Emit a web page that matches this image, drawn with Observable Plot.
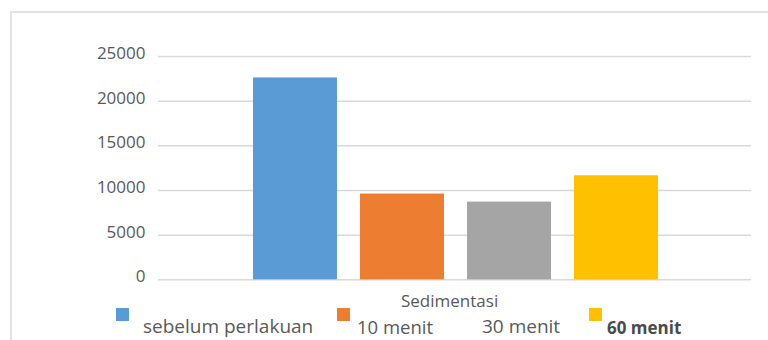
<!DOCTYPE html>
<html>
<head>
<meta charset="utf-8">
<script src="https://cdn.jsdelivr.net/npm/d3@7"></script>
<script src="https://cdn.jsdelivr.net/npm/@observablehq/plot@0.6"></script>
<style>
  html, body { margin: 0; padding: 0; background: #fff; }
  #wrap { position: relative; width: 768px; height: 340px; overflow: hidden; font-family: "Open Sans", sans-serif; color: #595959; }
  #frame { position: absolute; left: 10px; top: 11px; right: -4px; bottom: -4px; border-top: 2px solid #e2e2e2; border-left: 2px solid #e2e2e2; pointer-events: none; }
  .lg { position: absolute; font-size: 17px; line-height: 1; white-space: nowrap; }
  .sw { position: absolute; width: 13px; height: 13px; }
</style>
</head>
<body>
<div id="wrap"></div>
<script>
const categories = ["Sedimentasi"];
const series = ["sebelum perlakuan", "10 menit", "30 menit", "60 menit"];
const values = [22600, 9600, 8700, 11650];
const colors = ["#5B9BD5", "#ED7D31", "#A5A5A5", "#FFC000"];
const yTicks = [0, 5000, 10000, 15000, 20000, 25000];

const data = series.map((s, i) => ({category: categories[0], series: s, value: values[i]}));

const wrap = document.getElementById("wrap");

const chart = Plot.plot({
  width: 768,
  height: 290,
  marginLeft: 158,
  marginRight: 17,
  marginTop: 56,
  marginBottom: 10.7,
  style: {fontFamily: "Open Sans", fontSize: "17px", color: "#595959", background: "transparent"},
  x: {domain: series, range: [241, 670], paddingInner: 0.219, paddingOuter: 0.1095, axis: null},
  y: {domain: [0, 25000], axis: null},
  color: {domain: series, range: colors},
  marks: [
    Plot.ruleY(yTicks, {stroke: "#d9d9d9", strokeWidth: 1.5}),
    Plot.axisY({ticks: yTicks, tickSize: 0, tickPadding: 13, tickFormat: d => String(d), dy: -3, fill: "#595959", fontSize: 17, label: null}),
    Plot.barY(data, {x: "series", y: "value", fill: "series"})
  ]
});
chart.style.position = "absolute";
chart.style.left = "0px";
chart.style.top = "0px";
wrap.appendChild(chart);

// category label (x axis title)
const cat = document.createElement("div");
cat.className = "lg";
cat.textContent = categories[0];
cat.style.left = "401px";
cat.style.top = "292px";
wrap.appendChild(cat);

// legend (layout mirrors the reference)
const legendLayout = [
  {sw: [116, 308], txt: [143, 317], size: 19, show: true, bold: false},
  {sw: [337, 308], txt: [357, 318], size: 18.5, show: true, bold: false},
  {sw: null,       txt: [482, 317], size: 19, show: false, bold: false},
  {sw: [589, 308], txt: [607, 319], size: 17, show: true, bold: true}
];
series.forEach((s, i) => {
  const L = legendLayout[i];
  if (L.show && L.sw) {
    const sq = document.createElement("div");
    sq.className = "sw";
    sq.style.left = L.sw[0] + "px";
    sq.style.top = L.sw[1] + "px";
    sq.style.background = colors[i];
    wrap.appendChild(sq);
  }
  const t = document.createElement("div");
  t.className = "lg";
  t.textContent = s;
  t.style.left = L.txt[0] + "px";
  t.style.top = L.txt[1] + "px";
  t.style.fontSize = L.size + "px";
  if (L.bold) { t.style.fontWeight = "bold"; t.style.color = "#4a4a4a"; }
  wrap.appendChild(t);
});

const frame = document.createElement("div");
frame.id = "frame";
wrap.appendChild(frame);
</script>
</body>
</html>
